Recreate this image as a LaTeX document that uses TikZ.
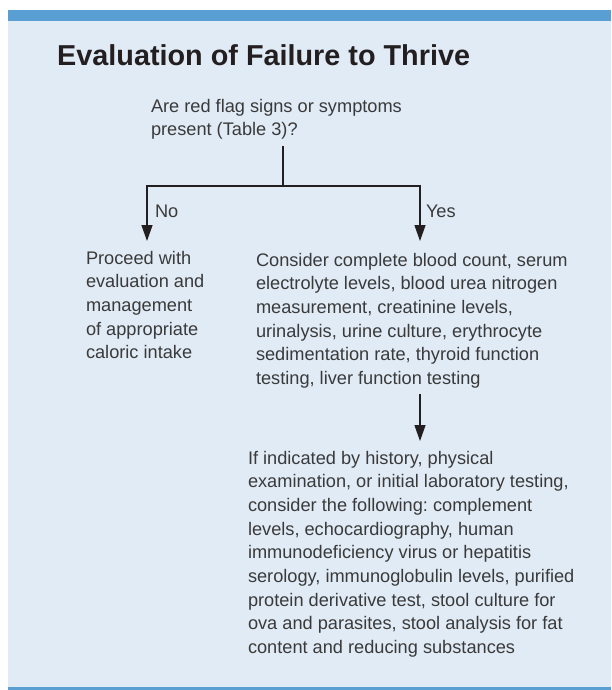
\documentclass[tikz,border=0pt]{standalone}
\usepackage{fontspec}
\setmainfont{Liberation Sans}
\usetikzlibrary{arrows.meta}
\definecolor{panelbg}{HTML}{E1EBF6}
\definecolor{barblue}{HTML}{5A9FD4}
\definecolor{inkgray}{HTML}{3A3A3A}
\definecolor{inkdark}{HTML}{231F20}
\newcommand{\firstln}{\rule{0pt}{15pt}}
\tikzset{ftip/.tip={Triangle[length=16pt,width=11pt]}}
\frenchspacing
\begin{document}
\begin{tikzpicture}[x=1pt,y=-1pt,
  txt/.style={anchor=north west, inner sep=0pt, outer sep=0pt, align=left, text=inkgray, font=\fontsize{18.2}{23.7}\selectfont\frenchspacing},
  lbl/.style={anchor=base west, inner sep=0pt, outer sep=0pt, text=inkgray, font=\fontsize{18.2}{23.7}\selectfont},
  conn/.style={draw=inkdark, line width=1.3pt}]
\useasboundingbox (0,0) rectangle (611,690);
\fill[white] (0,0) rectangle (611,690);
\fill[panelbg] (8,21) rectangle (611,687);
\fill[barblue] (8,10) rectangle (611,21);
\fill[barblue] (8,687) rectangle (611,690);
\node[anchor=base west, inner sep=0pt, text=inkdark, font=\fontsize{28.8}{34}\selectfont\bfseries] (title) at (57,66) {Evaluation of Failure to Thrive};
\node[txt] (q) at (151,97) {\firstln Are red flag signs or symptoms\\present (Table 3)?};
\node[txt] (left) at (86,249) {\firstln Proceed with\\evaluation and\\management\\of appropriate\\caloric intake};
\node[txt] (right) at (256,251) {\firstln Consider complete blood count, serum\\electrolyte levels, blood urea nitrogen\\measurement, creatinine levels,\\urinalysis, urine culture, erythrocyte\\sedimentation rate, thyroid function\\testing, liver function testing};
\node[txt] (lower) at (248,449) {\firstln If indicated by history, physical\\examination, or initial laboratory testing,\\consider the following: complement\\levels, echocardiography, human\\immunodeficiency virus or hepatitis\\serology, immunoglobulin levels, purified\\protein derivative test, stool culture for\\ova and parasites, stool analysis for fat\\content and reducing substances};
\node[lbl] (no) at (155,217) {No};
\node[lbl] (yes) at (426,217) {Yes};
\coordinate (j) at (283,186);
\coordinate (jl) at (147,186);
\coordinate (jr) at (420,186);
\draw[conn, shorten <=6.5pt] (q.south -| j) -- (j);
\draw[conn, ftip-ftip, shorten <=8pt, shorten >=10pt] (jl |- left.north) -- (jl) -- (jr) -- (jr |- right.north);
\draw[conn, -ftip, shorten <=5.7pt, shorten >=8pt] (right.south -| jr) -- (jr |- lower.north);
\end{tikzpicture}
\end{document}
